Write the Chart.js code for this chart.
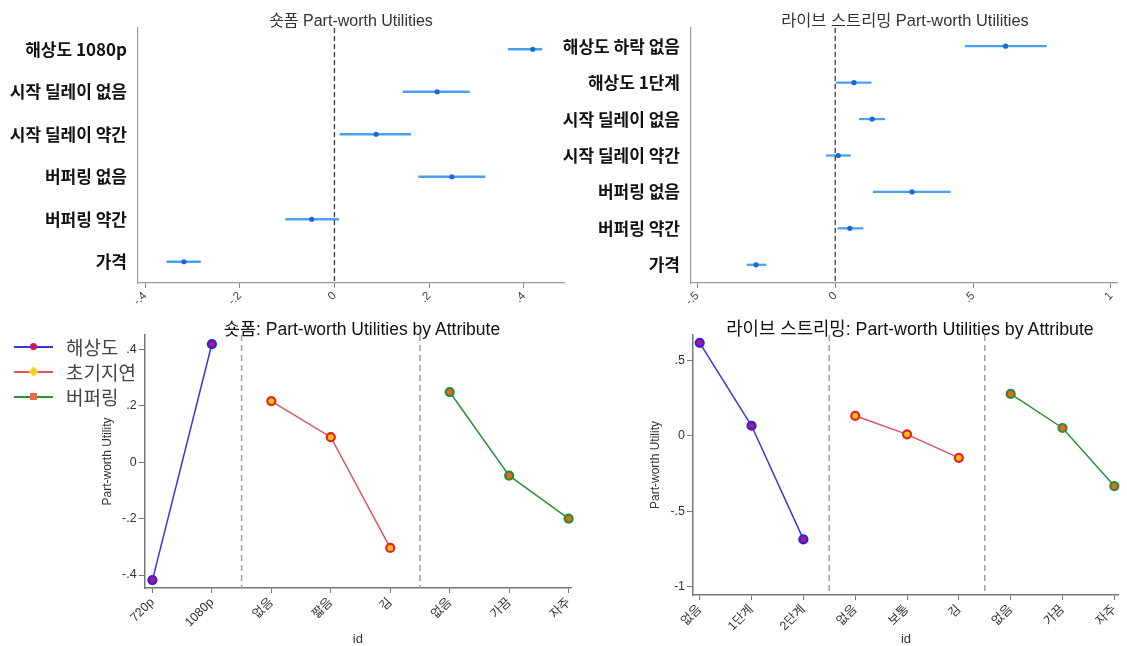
<!DOCTYPE html>
<html>
<head>
<meta charset="utf-8">
<script src="https://cdn.jsdelivr.net/npm/chart.js@4"></script>
<style>
  body { margin: 0; background: #fff; }
  #wrap { position: relative; width: 1127px; height: 646px; overflow: hidden; font-family: 'Liberation Sans', 'Noto Sans CJK KR', sans-serif; }
  .box { position: absolute; }
  .ttl { position: absolute; transform: translate(-50%, -50%); white-space: nowrap; color: #333; }
  .legend { position: absolute; left: 14px; top: 335px; z-index: 2; }
  .row { position: relative; height: 24.8px; width: 130px; }
  .sym { position: absolute; left: 0; top: 11px; width: 39px; height: 2px; }
  .mk { position: absolute; left: 16px; top: -3px; width: 7px; height: 7px; }
  .txt { position: absolute; left: 52px; top: 0; font-size: 19px; line-height: 24px; color: #444; white-space: nowrap; font-family: 'Noto Sans CJK KR', sans-serif; }
</style>
</head>
<body>
<div id="wrap">
  <div class="box" style="left:0;top:0;width:575px;height:310px"><canvas id="c1"></canvas></div>
  <div class="box" style="left:545px;top:0;width:582px;height:310px"><canvas id="c2"></canvas></div>
  <div class="box" style="left:100px;top:310px;width:490px;height:336px"><canvas id="c3"></canvas></div>
  <div class="box" style="left:648px;top:310px;width:479px;height:336px"><canvas id="c4"></canvas></div>
  <div class="ttl" style="left:351px;top:19px;font-size:16px">숏폼 Part-worth Utilities</div>
  <div class="ttl" style="left:905px;top:19px;font-size:16.4px">라이브 스트리밍 Part-worth Utilities</div>
  <div class="ttl" style="left:362px;top:327px;font-size:17.5px;color:#111">숏폼: Part-worth Utilities by Attribute</div>
  <div class="ttl" style="left:910px;top:327px;font-size:17.8px;color:#111">라이브 스트리밍: Part-worth Utilities by Attribute</div>
  <div class="legend" id="legend"></div>
</div>
<script>
// top-left: short-form estimates with CI
const SF_LABELS = ['해상도 1080p', '시작 딜레이 없음', '시작 딜레이 약간', '버퍼링 없음', '버퍼링 약간', '가격'];
const SF_EST = [0.419, 0.217, 0.088, 0.248, -0.048, -0.318];
const SF_LO = [0.367, 0.145, 0.012, 0.178, -0.103, -0.354];
const SF_HI = [0.438, 0.285, 0.161, 0.318, 0.009, -0.283];
const SF_XTICKS = [-0.4, -0.2, 0, 0.2, 0.4];
const SF_XTICK_LABELS = ['-.4', '-.2', '0', '.2', '.4'];

// top-right: live streaming estimates with CI
const LS_LABELS = ['해상도 하락 없음', '해상도 1단계', '시작 딜레이 없음', '시작 딜레이 약간', '버퍼링 없음', '버퍼링 약간', '가격'];
const LS_EST = [0.618, 0.068, 0.134, 0.011, 0.279, 0.053, -0.287];
const LS_LO = [0.472, 0.003, 0.088, -0.033, 0.138, 0.009, -0.320];
const LS_HI = [0.766, 0.130, 0.180, 0.055, 0.417, 0.101, -0.251];
const LS_XTICKS = [-0.5, 0, 0.5, 1];
const LS_XTICK_LABELS = ['-.5', '0', '.5', '1'];

// bottom: utilities by attribute
const GROUPS = ['해상도', '초기지연', '버퍼링'];
const SF_CATS = [['720p', '1080p'], ['없음', '짧음', '김'], ['없음', '가끔', '자주']];
const SF_VALS = [[-0.418, 0.418], [0.216, 0.088, -0.304], [0.248, -0.048, -0.200]];
const SF_YTICKS = [-0.4, -0.2, 0, 0.2, 0.4];
const SF_YTICK_LABELS = ['-.4', '-.2', '0', '.2', '.4'];

const LS_CATS = [['없음', '1단계', '2단계'], ['없음', '보통', '김'], ['없음', '가끔', '자주']];
const LS_VALS = [[0.618, 0.068, -0.686], [0.134, 0.011, -0.145], [0.279, 0.053, -0.332]];
const LS_YTICKS = [-1, -0.5, 0, 0.5];
const LS_YTICK_LABELS = ['-1', '-.5', '0', '.5'];

const LINE_COLORS = ['#3a36dc', '#e0525e', '#2f8f34'];
const PT_FILL = ['#b8157a', '#ffc21a', '#e8682c'];
const PT_RING = ['#2b22e6', '#e8241c', '#2e8b2e'];

Chart.defaults.font.family = "'Liberation Sans', 'Noto Sans CJK KR', sans-serif";
Chart.defaults.color = '#333';

// vertical reference lines drawn at scale values
const vlines = {
    id: 'vlines',
    afterDatasetsDraw(chart, args, opts) {
        const { ctx, chartArea, scales } = chart;
        ctx.save();
        ctx.strokeStyle = opts.color;
        ctx.lineWidth = opts.width;
        ctx.setLineDash(opts.dash);
        opts.values.forEach(v => {
            const px = scales.x.getPixelForValue(v);
            ctx.beginPath();
            ctx.moveTo(px, chartArea.top);
            ctx.lineTo(px, chartArea.bottom);
            ctx.stroke();
        });
        ctx.restore();
    }
};

function ciChart(id, labels, est, lo, hi, xmin, xmax, xticks, xlabels, yWidth, padRight) {
    return new Chart(document.getElementById(id), {
        type: 'bar',
        data: {
            labels,
            datasets: [
                {
                    type: 'line',
                    indexAxis: 'y',
                    data: est,
                    showLine: false,
                    pointRadius: 2.6,
                    pointBackgroundColor: '#1a6ad0',
                    pointBorderWidth: 0,
                    order: 0,
                    clip: false
                },
                {
                    type: 'bar',
                    data: lo.map((l, i) => [l, hi[i]]),
                    backgroundColor: '#4aa0ee',
                    barThickness: 1.6,
                    borderWidth: 0,
                    order: 1
                }
            ]
        },
        options: {
            indexAxis: 'y',
            responsive: true,
            maintainAspectRatio: false,
            animation: false,
            layout: { padding: { top: 28, right: padRight, left: 0, bottom: 0 } },
            plugins: {
                legend: { display: false },
                tooltip: { enabled: false },
                vlines: { values: [0], color: '#444', width: 1.4, dash: [5, 3] }
            },
            scales: {
                x: {
                    type: 'linear',
                    min: xmin,
                    max: xmax,
                    bounds: 'data',
                    afterBuildTicks: s => { s.ticks = xticks.map(v => ({ value: v })); },
                    afterFit: s => { s.height = 27; },
                    grid: { drawOnChartArea: false, drawTicks: true, tickLength: 5, color: '#888' },
                    border: { color: '#999', width: 1.2 },
                    ticks: {
                        callback: (v, i) => xlabels[i],
                        minRotation: 45,
                        maxRotation: 45,
                        padding: 1,
                        font: { size: 11.5 },
                        color: '#444'
                    }
                },
                y: {
                    type: 'category',
                    afterFit: s => { s.width = yWidth; },
                    grid: { drawOnChartArea: false, drawTicks: false },
                    border: { color: '#999', width: 1.2 },
                    ticks: {
                        padding: 11,
                        color: '#111',
                        font: { size: 17, weight: 'bold', family: "'Noto Sans CJK KR', sans-serif" }
                    }
                }
            }
        },
        plugins: [vlines]
    });
}

function attrChart(id, cats, vals, ymin, ymax, yticks, ylabels, xmax, yWidth, xHeight, padRight) {
    const flat = cats.flat();
    const starts = [];
    let n = 0;
    cats.forEach(c => { starts.push(n); n += c.length; });
    const seps = starts.slice(1).map(s => s - 0.5);
    const datasets = vals.map((v, g) => ({
        label: GROUPS[g],
        data: v.map((y, i) => ({ x: starts[g] + i, y })),
        borderColor: LINE_COLORS[g],
        borderWidth: 1.5,
        pointRadius: 4,
        pointBorderWidth: 2.2,
        pointBackgroundColor: PT_FILL[g],
        pointBorderColor: PT_RING[g],
        clip: false
    }));
    return new Chart(document.getElementById(id), {
        type: 'line',
        data: { datasets },
        options: {
            responsive: true,
            maintainAspectRatio: false,
            animation: false,
            layout: { padding: { top: 25, right: padRight, left: 0, bottom: 0 } },
            plugins: {
                legend: { display: false },
                tooltip: { enabled: false },
                vlines: { values: seps, color: '#a0a0a0', width: 1.5, dash: [6, 4] }
            },
            scales: {
                x: {
                    type: 'linear',
                    min: -0.13,
                    max: xmax,
                    bounds: 'data',
                    afterBuildTicks: s => { s.ticks = flat.map((_, i) => ({ value: i })); },
                    afterFit: s => { s.height = xHeight; },
                    grid: { drawOnChartArea: false, drawTicks: true, tickLength: 5, color: '#777' },
                    border: { color: '#777', width: 1.5 },
                    ticks: {
                        callback: (v, i) => flat[i],
                        autoSkip: false,
                        minRotation: 45,
                        maxRotation: 45,
                        padding: 2,
                        font: { size: 12.5 },
                        color: '#333'
                    },
                    title: { display: true, text: 'id', font: { size: 13, lineHeight: 1 }, padding: 0, color: '#333' }
                },
                y: {
                    type: 'linear',
                    min: ymin,
                    max: ymax,
                    bounds: 'data',
                    afterBuildTicks: s => { s.ticks = yticks.map(v => ({ value: v })); },
                    afterFit: s => { s.width = yWidth; },
                    grid: { drawOnChartArea: false, drawTicks: true, tickLength: 6, color: '#777' },
                    border: { color: '#777', width: 1.5 },
                    ticks: {
                        callback: (v, i) => ylabels[i],
                        padding: 2,
                        font: { size: 12.5 },
                        color: '#333'
                    },
                    title: { display: true, text: 'Part-worth Utility', font: { size: 12 }, padding: 0, color: '#333' }
                }
            }
        },
        plugins: [vlines]
    });
}

ciChart('c1', SF_LABELS, SF_EST, SF_LO, SF_HI, -0.415, 0.485, SF_XTICKS, SF_XTICK_LABELS, 138, 11);
ciChart('c2', LS_LABELS, LS_EST, LS_LO, LS_HI, -0.523, 1.022, LS_XTICKS, LS_XTICK_LABELS, 146, 10);
attrChart('c3', SF_CATS, SF_VALS, -0.446, 0.45, SF_YTICKS, SF_YTICK_LABELS, 7.04, 44.7, 58, 19);
attrChart('c4', LS_CATS, LS_VALS, -1.055, 0.67, LS_YTICKS, LS_YTICK_LABELS, 8.09, 45, 51, 4);

// legend for the short-form attribute chart
const MARK_SHAPES = ['circle', 'diamond', 'square'];
const MARK_FILL = ['#d0185c', '#ffd21f', '#f26a4a'];
const legend = document.getElementById('legend');
GROUPS.forEach((g, i) => {
    const row = document.createElement('div');
    row.className = 'row';
    const sym = document.createElement('div');
    sym.className = 'sym';
    sym.style.background = LINE_COLORS[i];
    const mk = document.createElement('div');
    mk.className = 'mk';
    mk.style.background = MARK_FILL[i];
    if (MARK_SHAPES[i] === 'circle') mk.style.borderRadius = '50%';
    if (MARK_SHAPES[i] === 'diamond') mk.style.transform = 'rotate(45deg)';
    sym.appendChild(mk);
    const txt = document.createElement('div');
    txt.className = 'txt';
    txt.textContent = g;
    row.appendChild(sym);
    row.appendChild(txt);
    legend.appendChild(row);
});
</script>
</body>
</html>
